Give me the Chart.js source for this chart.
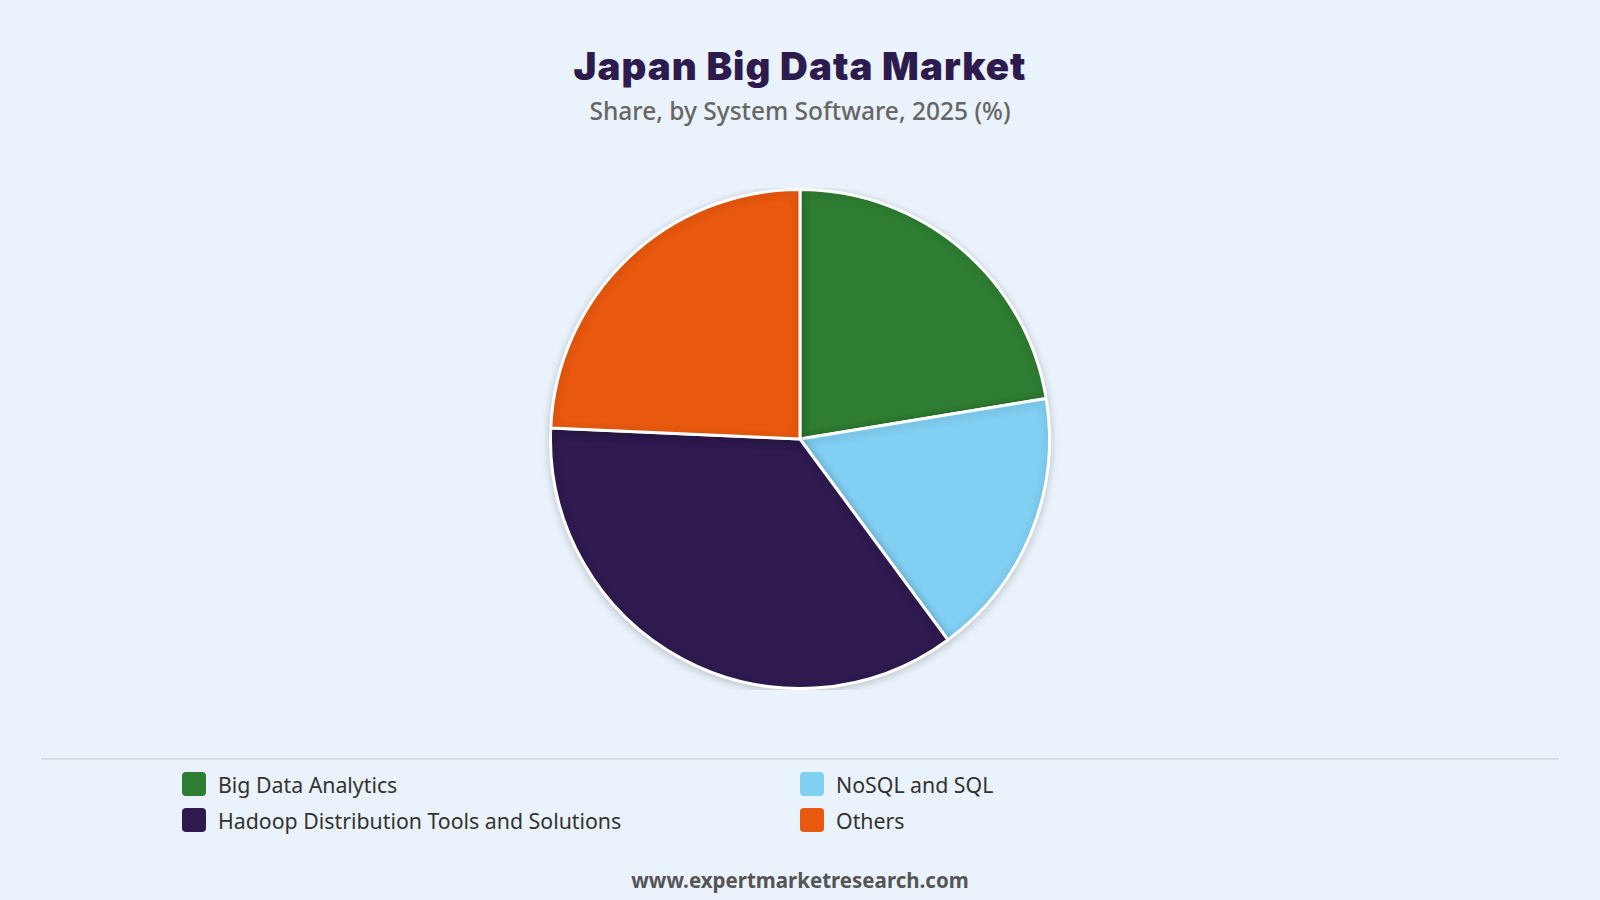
<!DOCTYPE html>
<html>
<head>
<meta charset="utf-8">
<script src="https://cdn.jsdelivr.net/npm/chart.js@4"></script>
<style>
  html, body { margin:0; padding:0; width:1600px; height:900px; background:#EAF2FB; overflow:hidden; font-family:"Noto Sans", "Open Sans", sans-serif; }
  #title { position:absolute; top:38px; left:0; width:1600px; text-align:center; font-family:Inter, "Noto Sans", sans-serif; font-weight:900; font-size:38.5px; letter-spacing:1px; color:#2D1B4E; line-height:56px; }
  #subtitle { position:absolute; top:94px; left:0; width:1600px; text-align:center; font-size:24.5px; color:#666; font-weight:500; line-height:34px; }
  #chartWrap { position:absolute; top:188px; left:0; width:1600px; height:502px; }
  #sep { position:absolute; top:758px; left:41px; width:1518px; height:2px; background:#DADDE2; }
  .leg { position:absolute; display:flex; align-items:center; font-size:21.3px; color:#333; height:30px; }
  .leg .box { width:24px; height:24px; border-radius:4px; margin-right:12px; }
  #footer { position:absolute; top:866px; left:0; width:1600px; text-align:center; font-size:20.5px; font-weight:700; color:#555; line-height:28px; }
</style>
</head>
<body>
<div id="title"></div>
<div id="subtitle"></div>
<div id="chartWrap"><canvas id="c"></canvas></div>
<div id="sep"></div>
<div id="legend"></div>
<div id="footer">www.expertmarketresearch.com</div>
<script>
const titleText = "Japan Big Data Market";
const subtitleText = "Share, by System Software, 2025 (%)";
const categories = ["Big Data Analytics", "NoSQL and SQL", "Hadoop Distribution Tools and Solutions", "Others"];
const shares = [22.4, 17.5, 35.8, 24.3];
const colors = ["#2E7D32", "#81CFF2", "#2E1A4F", "#E8580E"];

document.getElementById('title').textContent = titleText;
document.getElementById('subtitle').textContent = subtitleText;

const legendPos = [
  {left:182, top:769}, {left:800, top:769},
  {left:182, top:805}, {left:800, top:805}
];
const legendIdx = [0, 1, 2, 3];
const legEl = document.getElementById('legend');
legendIdx.forEach((ci, i) => {
  const d = document.createElement('div');
  d.className = 'leg';
  d.style.left = legendPos[i].left + 'px';
  d.style.top = legendPos[i].top + 'px';
  const b = document.createElement('div');
  b.className = 'box';
  b.style.background = colors[ci];
  const t = document.createElement('span');
  t.textContent = categories[ci];
  d.appendChild(b); d.appendChild(t);
  legEl.appendChild(d);
});

const shadowPlugin = {
  id: 'pieShadow',
  beforeDatasetsDraw(chart) {
    const ctx = chart.ctx;
    ctx.save();
    ctx.shadowColor = 'rgba(0,0,0,0.18)';
    ctx.shadowBlur = 10;
    ctx.shadowOffsetX = 0;
    ctx.shadowOffsetY = 2;
  },
  afterDatasetsDraw(chart) {
    chart.ctx.restore();
  }
};

new Chart(document.getElementById('c'), {
  type: 'pie',
  data: {
    labels: categories,
    datasets: [{
      data: shares,
      backgroundColor: colors,
      borderColor: '#FFFFFF',
      borderWidth: 3,
      hoverOffset: 0
    }]
  },
  options: {
    responsive: true,
    maintainAspectRatio: false,
    animation: false,
    layout: { padding: 0 },
    plugins: {
      legend: { display: false },
      tooltip: { enabled: false },
      title: { display: false }
    }
  },
  plugins: [shadowPlugin]
});
</script>
</body>
</html>
